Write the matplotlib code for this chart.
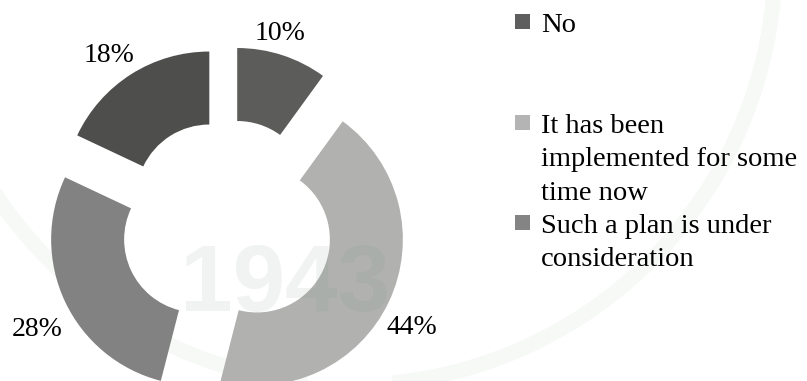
import numpy as np
import matplotlib.pyplot as plt
from matplotlib.patches import Rectangle

# survey shares, clockwise from 12 o'clock
shares = [10, 44, 28, 18]
slice_colors = ['#5c5d5b', '#b1b2b0', '#818281', '#4e4f4d']

legend_labels = ["No",
                 "It has been\nimplemented for some\ntime now",
                 "Such a plan is under\nconsideration"]
legend_colors = ['#5e5e5e', '#b4b4b4', '#848484']

W, H = 807, 381
fig = plt.figure(figsize=(W / 100, H / 100), dpi=100)
ax = fig.add_axes([0, 0, 1, 1])

# faint seal in the background
ax.text(285, H - 286, "1943", fontsize=68, fontweight='bold', family='Liberation Sans',
        color='#6f8f78', alpha=0.10, ha='center', va='center', zorder=5)
t = np.linspace(0, 2 * np.pi, 400)
ax.plot(350 + 425 * np.cos(t), H + 40 + 425 * np.sin(t), color='#8fb098', alpha=0.07,
        lw=11, zorder=0)

cx, cy = 227, H - 225.4
R = 146
ax.pie(shares, startangle=90, counterclock=False, radius=R, center=(cx, cy),
       explode=[33] * len(shares), colors=slice_colors,
       wedgeprops=dict(width=73, edgecolor='none'))

# value labels
label_pos = [(280, 34), (412, 327), (37, 330), (109, 56)]
for v, (px, py) in zip(shares, label_pos):
    ax.text(px, H - py, f"{v}%", fontsize=20, family='Liberation Serif',
            ha='center', va='center', color='black')

# legend
entry_tops = [32, 133, 233]
line_gap = 33.5
for lab, col, base in zip(legend_labels, legend_colors, entry_tops):
    ax.add_patch(Rectangle((515, H - base + 3), 15, 15, facecolor=col, edgecolor='none'))
    for i, line in enumerate(lab.split("\n")):
        ax.text(541, H - (base + i * line_gap), line, fontsize=20.5,
                family='Liberation Serif', ha='left', va='baseline', color='black')

ax.set_xlim(0, W)
ax.set_ylim(0, H)
ax.set_aspect('equal')
ax.set_axis_off()

fig.savefig("out.png", dpi=100)
